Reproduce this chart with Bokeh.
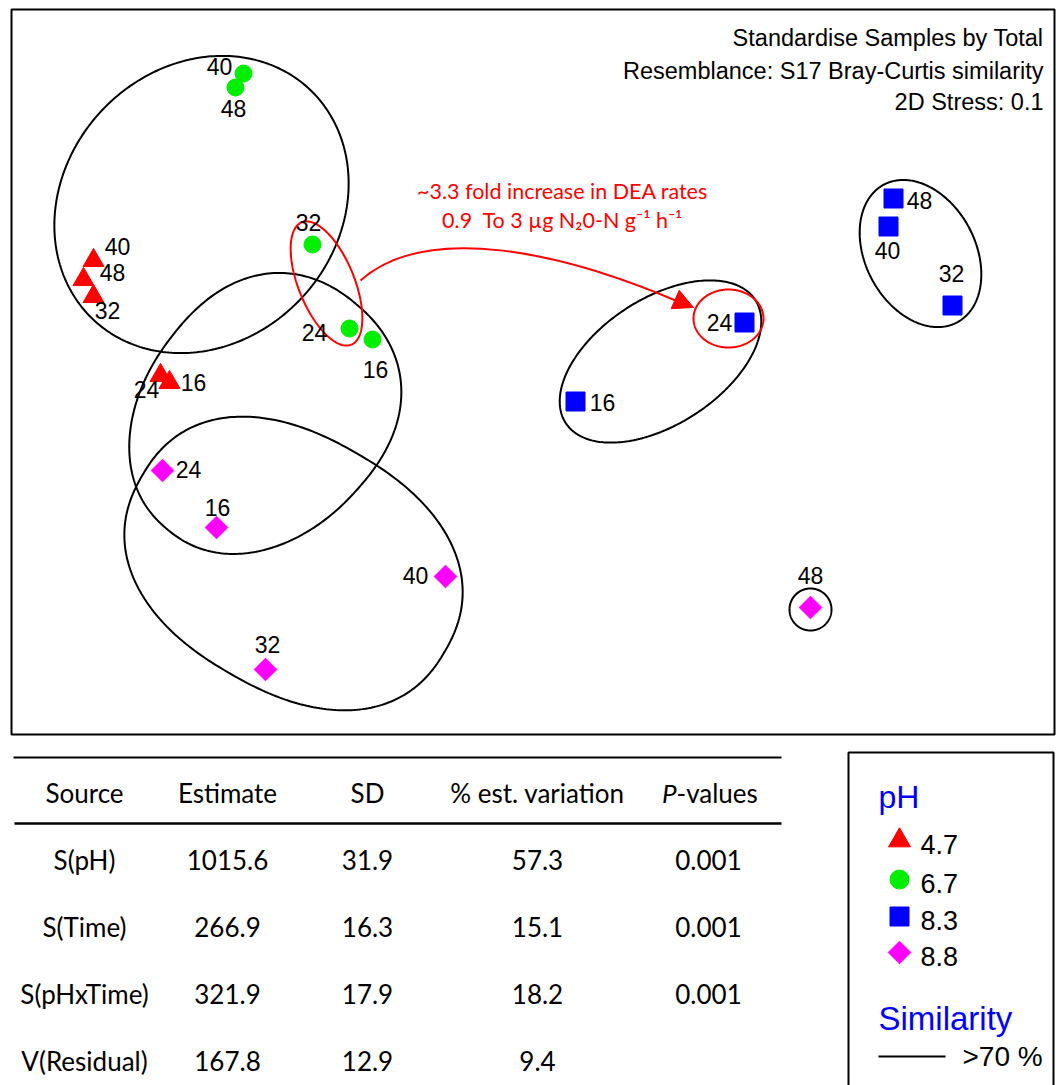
import numpy as np
from bokeh.plotting import figure
from bokeh.models import Range1d, Arrow, NormalHead
from bokeh.core.properties import value
from bokeh.embed import file_html
from bokeh.resources import INLINE

W, H = 1058, 1085

# nMDS ordination scores (plot units) and sampling time (h) for each pH treatment
ph47_time = [40, 48, 32, 24, 16]
ph47_x = [93, 83, 93, 160, 169]
ph47_y = [260, 279, 296, 375, 382]

ph67_time = [40, 48, 32, 24, 16]
ph67_x = [243, 235, 312, 349, 372]
ph67_y = [73, 87, 244, 328, 339]

ph83_time = [48, 40, 32, 24, 16]
ph83_x = [893, 888, 952, 744, 575]
ph83_y = [198, 226, 305, 322, 401]

ph88_time = [24, 16, 40, 32, 48]
ph88_x = [162, 216, 445, 265, 810]
ph88_y = [470, 527, 576, 669, 607]

ph_levels = ["4.7", "6.7", "8.3", "8.8"]

# PERMANOVA components of variation
tbl_header = ["Source", "Estimate", "SD", "% est. variation"]
tbl_source = ["S(pH)", "S(Time)", "S(pHxTime)", "V(Residual)"]
tbl_estimate = ["1015.6", "266.9", "321.9", "167.8"]
tbl_sd = ["31.9", "16.3", "17.9", "12.9"]
tbl_pct = ["57.3", "15.1", "18.2", "9.4"]
tbl_p = ["0.001", "0.001", "0.001", ""]

info_lines = ["Standardise Samples by Total",
              "Resemblance: S17 Bray-Curtis similarity",
              "2D Stress: 0.1"]
dea_lines = ["~3.3 fold increase in DEA rates",
             "0.9\u00a0 To 3 \u00b5g N\u20820-N g\u207b\u00b9 h\u207b\u00b9"]

# ---- styling / layout ----
RED, GREEN, BLUE, MAGENTA = "#FF0000", "#00EE00", "#0000FF", "#FF00FF"
ARIAL = value("Liberation Sans")
CALI = value("Lato")

# label offsets (px) relative to each point
lab47 = [(24, -14), (29, -7), (14, 14), (-14, 14), (24, 0)]
lab67 = [(-24, -7), (-2, 21), (-4, -22), (-35, 4), (3, 30)]
lab83 = [(26, 2), (-1, 24), (-1, -32), (-25, 0), (27, 1)]
lab88 = [(26, -1), (1, -20), (-30, -1), (2, -25), (0, -32)]

# similarity outlines: centre, semi-axes, rotation (deg), squareness, egg factor
groups_black = [
    (201, 204, 158, 137, -47, 2.0, 0.0),
    (261, 416, 147, 120, -50, 2.2, 0.08),
    (293, 563, 175, 127, 30, 2.3, 0.0),
    (660, 361, 113, 63, -33, 2.0, 0.0),
    (920, 253, 78, 55, 62, 2.0, 0.0),
    (810, 609, 21, 21, 0, 2.0, 0.0),
]
groups_red = [
    (326, 283, 66, 28, 68, 2.0, 0.0),
    (728, 318, 35, 29, 0, 2.0, 0.0),
]


def outline(cx, cy, a, b, ang, n=2.0, k=0.0, m=300):
    t = np.linspace(0, 2 * np.pi, m)
    c, s = np.cos(t), np.sin(t)
    u = a * np.sign(c) * np.abs(c) ** (2.0 / n)
    v = b * np.sign(s) * np.abs(s) ** (2.0 / n) * (1 + k * c)
    th = np.radians(ang)
    return (cx + u * np.cos(th) - v * np.sin(th)).tolist(), \
           (cy + u * np.sin(th) + v * np.cos(th)).tolist()


p = figure(width=W, height=H, x_range=Range1d(0, W), y_range=Range1d(H, 0),
           output_backend="svg", toolbar_location=None,
           x_axis_location=None, y_axis_location=None, min_border=0,
           outline_line_color=None, background_fill_color="white",
           border_fill_color="white")
p.grid.visible = False

# plot frame
p.quad(left=11, right=1054, top=9, bottom=734, fill_color=None,
       line_color="black", line_width=2)

# similarity outlines
bx, by = zip(*[outline(*g) for g in groups_black])
p.multi_line(list(bx), list(by), line_color="black", line_width=2)
rx, ry = zip(*[outline(*g) for g in groups_red])
p.multi_line(list(rx), list(ry), line_color=RED, line_width=2)

# curved arrow
p.bezier(x0=360, y0=280, x1=682, y1=303, cx0=425, cy0=222, cx1=560, cy1=250,
         line_color=RED, line_width=2)
p.add_layout(Arrow(end=NormalHead(size=20, fill_color=RED, line_color=RED),
                   x_start=674.7, y_start=299, x_end=693, y_end=307,
                   line_color=RED, line_width=2))

# samples
series = [
    (ph47_x, ph47_y, ph47_time, lab47, "triangle", 21, RED, 0),
    (ph67_x, ph67_y, ph67_time, lab67, "circle", 17, GREEN, 0),
    (ph83_x, ph83_y, ph83_time, lab83, "square", 19, BLUE, 0),
    (ph88_x, ph88_y, ph88_time, lab88, "square", 16, MAGENTA, np.pi / 4),
]
for xs, ys, ts, offs, mk, sz, col, ang in series:
    p.scatter(xs, ys, marker=mk, size=sz, angle=ang, fill_color=col,
              line_color=col)
for xs, ys, ts, offs, mk, sz, col, ang in series:
    p.text([x + o[0] for x, o in zip(xs, offs)],
           [y + o[1] for y, o in zip(ys, offs)],
           text=[str(t) for t in ts], text_font=ARIAL, text_font_size="23px",
           text_align="center", text_baseline="middle", text_color="black")

# info lines
p.text([1043] * 3, [37, 70, 101], text=info_lines, text_font=ARIAL,
       text_font_size="23.5px", text_align="right", text_baseline="middle",
       text_color="black")

# DEA annotation
p.text([562, 562], [190, 219], text=dea_lines, text_font=CALI,
       text_font_size="21.5px", text_align="center", text_baseline="middle",
       text_color=RED)

# ---- table ----
col_x = [84, 227, 367, 537, 708]
p.line([13, 781], [757, 757], line_color="black", line_width=2)
p.line([14, 781], [823, 823], line_color="black", line_width=2.5)
p.text(col_x[:4], [792] * 4, text=tbl_header, text_font=CALI,
       text_font_size="26px", text_align="center", text_baseline="middle",
       text_color="black")
p.text([676], [792], text=["P"], text_font=CALI, text_font_size="26px",
       text_font_style="italic", text_align="right", text_baseline="middle",
       text_color="black")
p.text([676], [792], text=["-values"], text_font=CALI, text_font_size="26px",
       text_align="left", text_baseline="middle", text_color="black")
row_y = [859, 926, 993, 1060]
for cx, vals in zip(col_x, [tbl_source, tbl_estimate, tbl_sd, tbl_pct, tbl_p]):
    p.text([cx] * len(vals), row_y, text=vals, text_font=CALI,
           text_font_size="26px", text_align="center", text_baseline="middle",
           text_color="black")

# ---- legend ----
p.line([848, 848, 1053, 1053], [1095, 752, 752, 1095], line_color="black",
       line_width=2)
p.text([878], [796], text=["pH"], text_font=ARIAL, text_font_size="32px",
       text_align="left", text_baseline="middle", text_color=BLUE)
leg_y = [840, 879, 916, 952]
leg_mk = [("triangle", 22, RED, 0), ("circle", 19, GREEN, 0),
          ("square", 19, BLUE, 0), ("square", 16, MAGENTA, np.pi / 4)]
for ly, (mk, sz, col, ang) in zip(leg_y, leg_mk):
    p.scatter([899], [ly], marker=mk, size=sz, angle=ang, fill_color=col,
              line_color=col)
p.text([920] * 4, [y + 4 for y in leg_y], text=ph_levels, text_font=ARIAL,
       text_font_size="27px", text_align="left", text_baseline="middle",
       text_color="black")
p.text([878], [1018], text=["Similarity"], text_font=ARIAL,
       text_font_size="33px", text_align="left", text_baseline="middle",
       text_color=BLUE)
p.line([878, 945], [1056, 1056], line_color="black", line_width=2)
p.text([962], [1056], text=[">70 %"], text_font=ARIAL, text_font_size="28px",
       text_align="left", text_baseline="middle", text_color="black")

open("out.html", "w").write(file_html(p, INLINE))
